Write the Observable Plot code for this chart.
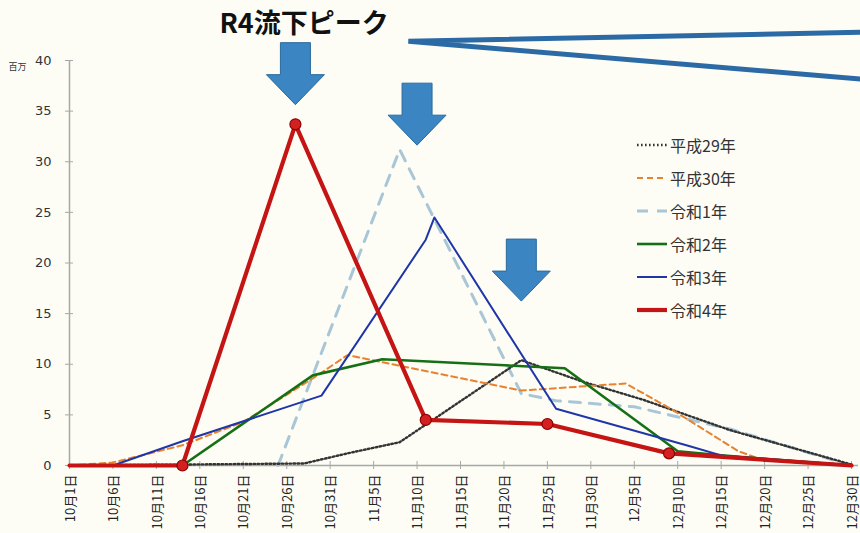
<!DOCTYPE html>
<html><head><meta charset="utf-8">
<script src="https://cdn.jsdelivr.net/npm/d3@7"></script>
<script src="https://cdn.jsdelivr.net/npm/@observablehq/plot@0.6"></script>
<style>
html,body{margin:0;padding:0;background:#fdfdf6;overflow:hidden}
#wrap{position:relative;width:860px;height:533px}
#legend{position:absolute;left:636px;top:128px;font-family:"Noto Sans CJK JP";font-size:16px;color:#333;line-height:1}
.row{height:33px;display:flex;align-items:center}
.row svg{margin-right:2px}
</style></head><body><div id="wrap"><div id="legend"></div></div>
<script>
const year = 2022;
const seriesNames = ["平成29年","平成30年","令和1年","令和2年","令和3年","令和4年"];

const h29Dates  = ["10-01","10-28","11-02","11-08","11-22","11-29","12-06","12-16","12-30"];
const h29Values = [0, 0.2, 1.2, 2.3, 10.4, 8.3, 6.5, 3.5, 0.1];

const h30Dates  = ["10-01","10-06","10-14","10-21","10-29","11-02","11-22","12-04","12-09","12-17","12-20","12-30"];
const h30Values = [0, 0.3, 2.0, 4.3, 8.6, 10.9, 7.4, 8.1, 5.7, 1.4, 0.5, 0];

const r1Dates  = ["10-25","11-08","11-22","11-26","12-05","12-16","12-30"];
const r1Values = [0, 31.2, 7.1, 6.4, 5.8, 3.6, 0];

const r2Dates  = ["10-01","10-14","10-29","11-06","11-27","12-10","12-15","12-30"];
const r2Values = [0, 0, 8.9, 10.5, 9.6, 1.4, 1.0, 0];

const r3Dates  = ["10-01","10-06","10-14","10-30","11-11","11-12","11-26","12-11","12-15","12-30"];
const r3Values = [0, 0, 2.4, 6.9, 22.3, 24.5, 5.6, 2.0, 1.0, 0];

const r4Dates  = ["10-01","10-14","10-27","11-11","11-25","12-09","12-30"];
const r4Values = [0, 0, 33.7, 4.5, 4.1, 1.2, 0];

const xTickLabels = ["10月1日","10月6日","10月11日","10月16日","10月21日","10月26日","10月31日",
  "11月5日","11月10日","11月15日","11月20日","11月25日","11月30日",
  "12月5日","12月10日","12月15日","12月20日","12月25日","12月30日"];
const yTicks = [0,5,10,15,20,25,30,35,40];
const yUnit = "百万";

const titleText = "R4流下ピーク";
const titleDate = "10-28"; const titleValue = 43.6;
const arrowDates  = ["10-27","11-10","11-22"];
const arrowValues = [38.7, 34.7, 19.3];
const calloutDates  = ["01-01","11-09","01-01"];
const calloutValues = [42.8, 41.9, 38.1];

const toDate = s => { const [m,d] = s.split("-").map(Number); return new Date(Date.UTC(m === 1 ? year+1 : year, m-1, d)); };
const parseLabel = s => { const m = s.match(/(\d+)月(\d+)日/); return new Date(Date.UTC(year, +m[1]-1, +m[2])); };
const build = (name, dates, values) => dates.map((d,i) => ({series: name, date: toDate(d), value: values[i]}));

const seriesData = [
  build(seriesNames[0], h29Dates, h29Values),
  build(seriesNames[1], h30Dates, h30Values),
  build(seriesNames[2], r1Dates, r1Values),
  build(seriesNames[3], r2Dates, r2Values),
  build(seriesNames[4], r3Dates, r3Values),
  build(seriesNames[5], r4Dates, r4Values)
];
const styles = [
  {stroke:"#333333", strokeWidth:2.4, dash:"1.6 2.4"},
  {stroke:"#e8822e", strokeWidth:2, dash:"6 4"},
  {stroke:"#a9c6d6", strokeWidth:3, dash:"11 9"},
  {stroke:"#157015", strokeWidth:2.6, dash:null},
  {stroke:"#1f36a8", strokeWidth:2, dash:null},
  {stroke:"#c41414", strokeWidth:4.2, dash:null}
];
const drawOrder = [2,0,1,3,4,5];

const tickDates = xTickLabels.map(parseLabel);
const xTicks = tickDates.map((d,i) => ({date: d, label: xTickLabels[i]}));
const redMarkers = seriesData[5].slice(1, -1);
const arrows = arrowDates.map((d,i) => ({date: toDate(d), value: arrowValues[i]}));
const callout = calloutDates.map((d,i) => ({date: toDate(d), value: calloutValues[i]}));

const arrowSymbol = { draw(ctx) {
  ctx.moveTo(-15,-31); ctx.lineTo(15,-31); ctx.lineTo(15,1); ctx.lineTo(29,1);
  ctx.lineTo(0,31); ctx.lineTo(-29,1); ctx.lineTo(-15,1); ctx.closePath();
}};

const cjk = "Noto Sans CJK JP";
const chart = Plot.plot({
  width: 860, height: 533,
  marginLeft: 69, marginRight: 9, marginTop: 60, marginBottom: 68,
  style: {background: "transparent", color: "#333", fontFamily: cjk, overflow: "visible"},
  x: {type: "utc", domain: [tickDates[0], tickDates[tickDates.length-1]], axis: null},
  y: {domain: [0, 40], axis: null},
  marks: [
    Plot.ruleY([0], {stroke: "#a8a8a8", strokeWidth: 1.5, insetRight: -7}),
    Plot.ruleX([tickDates[0]], {stroke: "#a8a8a8", strokeWidth: 1.5}),
    Plot.ruleY(yTicks, {y: d => d, x1: tickDates[0], x2: tickDates[0], insetLeft: -4, insetRight: -4, stroke: "#a8a8a8"}),
    Plot.ruleX(tickDates, {x: d => d, y1: 0, y2: 0, insetTop: -4, insetBottom: -4, stroke: "#a8a8a8"}),
    Plot.text(yTicks, {y: d => d, frameAnchor: "left", dx: -18, textAnchor: "end", text: d => String(d), fontSize: 13, fontFamily: "DejaVu Sans", fill: "#333"}),
    Plot.text(xTicks, {x: "date", frameAnchor: "bottom", dy: 9, dx: 1, rotate: -90, textAnchor: "end", lineAnchor: "middle", text: "label", fontSize: 13, fontFamily: cjk, fill: "#222"}),
    Plot.text([yUnit], {frameAnchor: "top-left", text: d => d, dx: -61, dy: 3, textAnchor: "start", fontSize: 9, fill: "#333"}),
    ...drawOrder.map(i => Plot.line(seriesData[i], {x: "date", y: "value", stroke: styles[i].stroke, strokeWidth: styles[i].strokeWidth, strokeDasharray: styles[i].dash, strokeLinejoin: "round"})),
    Plot.dot(redMarkers, {x: "date", y: "value", r: 5.5, fill: "#d42020", stroke: "#8b0000", strokeWidth: 1.2}),
    Plot.dot(arrows, {x: "date", y: "value", symbol: arrowSymbol, fill: "#3b86c2", stroke: "#2a6a9c", strokeWidth: 1}),
    Plot.line(callout, {x: "date", y: "value", stroke: "#2c6aa6", strokeWidth: 5, strokeLinejoin: "miter"}),
    Plot.text([titleText], {x: () => toDate(titleDate), y: () => titleValue, text: d => d, fontSize: 27, fontWeight: "bold", fill: "#111", fontFamily: cjk})
  ]
});
document.getElementById("wrap").prepend(chart);

const legend = document.getElementById("legend");
seriesNames.forEach((name, i) => {
  const s = styles[i];
  const row = document.createElement("div");
  row.className = "row";
  row.innerHTML = `<svg width="32" height="10"><line x1="1" x2="31" y1="5" y2="5" stroke="${s.stroke}" stroke-width="${s.strokeWidth}" ${s.dash ? `stroke-dasharray="${s.dash}"` : ""}/></svg><span>${name}</span>`;
  legend.appendChild(row);
});
</script></body></html>
